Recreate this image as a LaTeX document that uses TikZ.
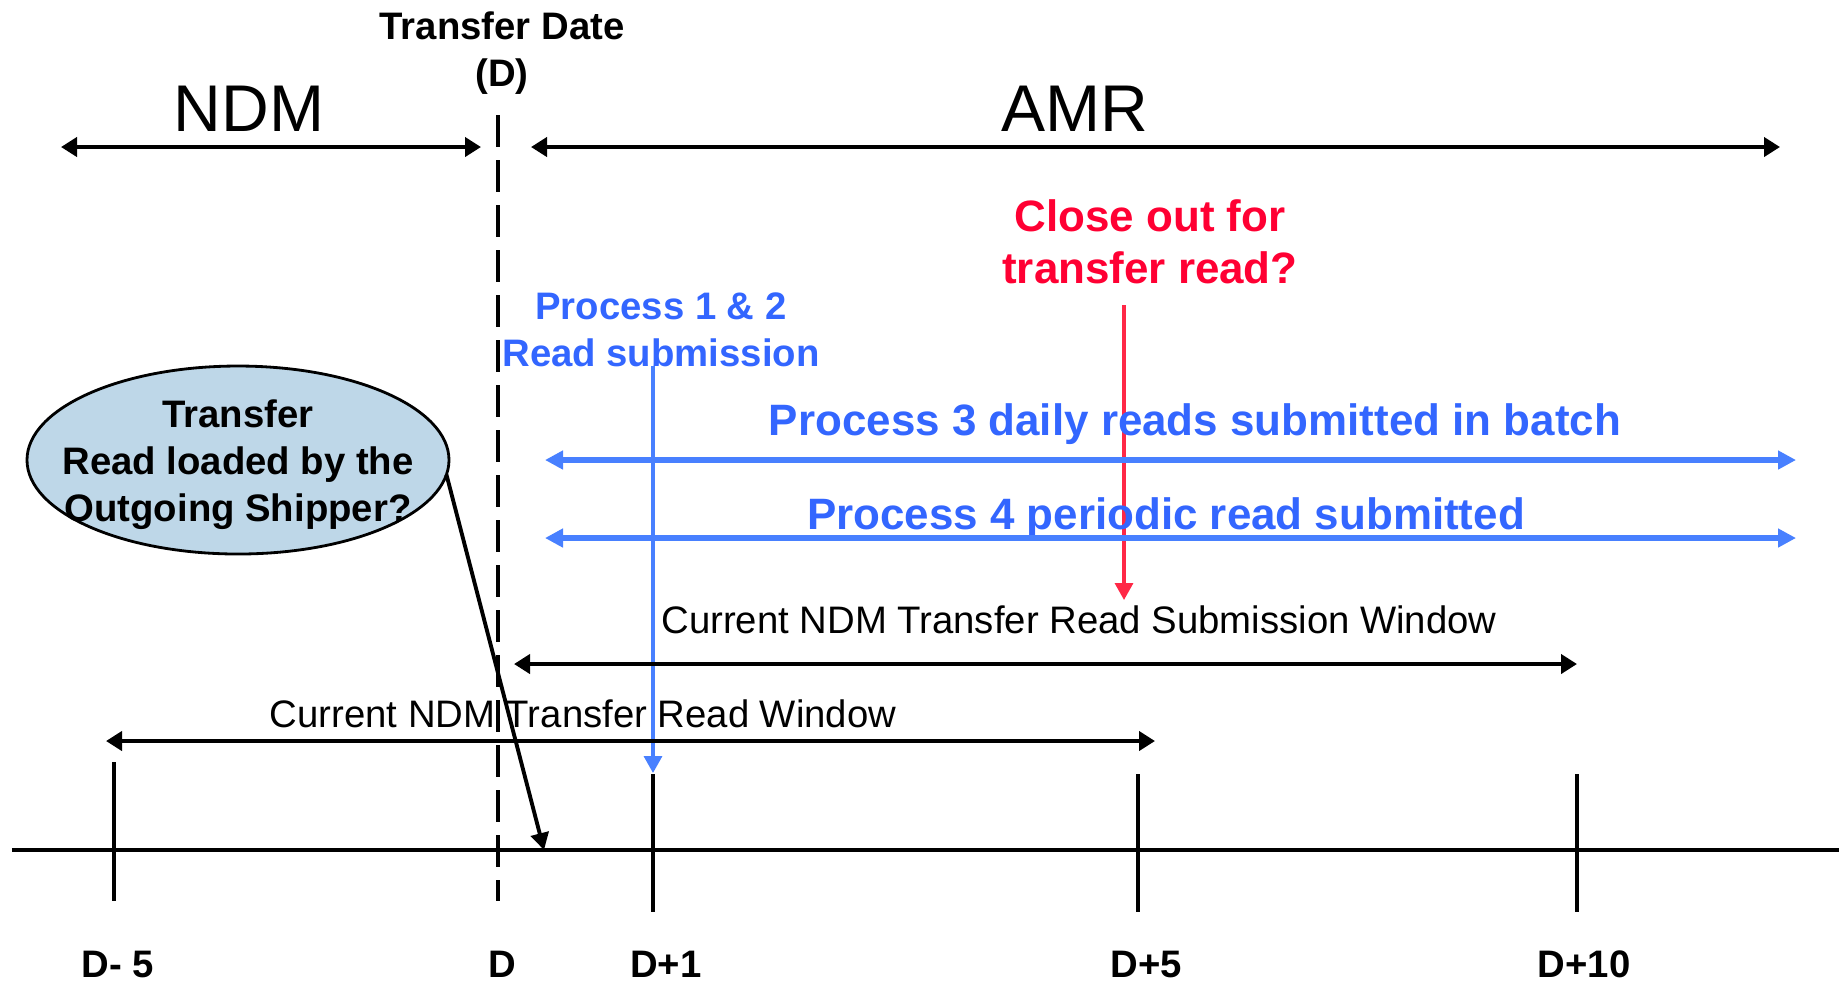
\documentclass[tikz,border=0pt]{standalone}
\usepackage{fontspec}
\setmainfont{Liberation Sans}
\usetikzlibrary{arrows.meta,shapes.geometric,positioning}
\definecolor{procblue}{RGB}{51,102,255}
\definecolor{lineblue}{RGB}{72,128,255}
\definecolor{closered}{RGB}{255,0,51}
\definecolor{linered}{RGB}{255,40,70}
\definecolor{bubblefill}{RGB}{190,215,232}
\newcommand\hugetxt{\fontsize{18.8}{22}\selectfont}
\newcommand\bigbold{\fontsize{12.5}{14.8}\selectfont\bfseries}
\newcommand\normbold{\fontsize{10.9}{13.4}\selectfont\bfseries}
\newcommand\plaintxt{\fontsize{10.9}{13.4}\selectfont}

\begin{document}
\begin{tikzpicture}[
    span/.style={line width=1.2pt,{Triangle[length=0.16cm,width=0.19cm]}-{Triangle[length=0.16cm,width=0.19cm]}},
    bluespan/.style={lineblue,line width=1.5pt,{Triangle[length=0.18cm,width=0.18cm]}-{Triangle[length=0.18cm,width=0.18cm]}},
    drop/.style={line width=0.95pt,-{Triangle[length=0.17cm,width=0.18cm]}},
    tick/.style={line width=0.9pt},
    dline/.style={line width=1.1pt,dash pattern=on 0.32cm off 0.13cm},
    daylabel/.style={anchor=base,font=\normbold,inner sep=0pt},
    bubble/.style={ellipse,draw,line width=0.8pt,fill=bubblefill,inner sep=0pt,outer sep=0pt,
        minimum width=4.22cm,minimum height=1.88cm},
    txt/.style={inner sep=0pt,align=center}
]
    \useasboundingbox (0,0) rectangle (18.39,-9.80);

    % Periods
    \node[txt,anchor=base,font=\hugetxt] (ndm) at (2.49,-1.31) {NDM};
    \node[txt,anchor=base,font=\hugetxt] (amr) at (10.75,-1.31) {AMR};
    \node[txt,font=\normbold] (tdate) at (5.02,-0.53) {Transfer Date\\(D)};
    \coordinate (ndmL) at (0.61,-1.47);
    \coordinate (ndmR) at (4.81,-1.47);
    \coordinate (amrL) at (5.31,-1.47);
    \coordinate (amrR) at (17.80,-1.47);
    \draw[span] (ndmL) -- (ndmR);
    \draw[span] (amrL) -- (amrR);

    % Transfer date line
    \coordinate (dTop) at (4.98,-1.15);
    \coordinate (dBot) at (4.98,-9.01);
    \draw[dline] (dTop) -- (dBot);

    % Time axis
    \coordinate (axL) at (0.12,-8.50);
    \coordinate (axR) at (18.39,-8.50);
    \draw[line width=1.1pt] (axL) -- (axR);
    \foreach \n/\x/\t/\b/\lx/\lab in {m5/1.14/-7.62/-9.01/1.18/{D- 5},
        p1/6.53/-7.74/-9.12/6.66/{D+1}, p5/11.38/-7.74/-9.12/11.46/{D+5},
        p10/15.77/-7.74/-9.12/15.84/{D+10}} {
        \draw[tick] (\x,\t) -- (\x,\b);
        \node[daylabel] (lab\n) at (\lx,-9.77) {\lab};
    }
    \node[daylabel] (labD) at (5.02,-9.77) {D};

    % Shipper bubble
    \node[bubble] (shipper) at (2.38,-4.60) {};
    \node[txt,font=\normbold] (shippertxt) at (2.38,-4.65) {Transfer\\Read loaded by the\\Outgoing Shipper?};
    \coordinate (loadTip) at (5.44,-8.50);
    \draw[drop,line width=1.1pt] (shipper.-4) -- (loadTip);

    % Process 1 & 2
    \node[txt,font=\normbold,text=procblue] (proc12) at (6.61,-3.30) {Process 1 \& 2\\Read submission};
    \coordinate (p12Top) at (6.53,-3.66);
    \coordinate (p12Tip) at (6.53,-7.73);
    \draw[drop,lineblue] (p12Top) -- (p12Tip);

    % Close out
    \node[txt,font=\bigbold,text=closered] (close) at (11.50,-2.42) {Close out for\\transfer read?};
    \coordinate (closeTop) at (11.24,-3.05);
    \coordinate (closeTip) at (11.24,-6.00);
    \draw[drop,linered] (closeTop) -- (closeTip);

    % Process 3 and 4
    \node[txt,anchor=base,font=\bigbold,text=procblue] (proc3) at (11.95,-4.35) {Process 3 daily reads submitted in batch};
    \coordinate (p3L) at (5.45,-4.60);
    \coordinate (p3R) at (17.96,-4.60);
    \draw[bluespan] (p3L) -- (p3R);
    \node[txt,anchor=base,font=\bigbold,text=procblue] (proc4) at (11.66,-5.29) {Process 4 periodic read submitted};
    \coordinate (p4L) at (5.45,-5.38);
    \coordinate (p4R) at (17.96,-5.38);
    \draw[bluespan] (p4L) -- (p4R);

    % Current windows
    \node[txt,anchor=base,font=\plaintxt] (subwin) at (10.79,-6.33) {Current NDM Transfer Read Submission Window};
    \coordinate (swL) at (5.14,-6.64);
    \coordinate (swR) at (15.77,-6.64);
    \draw[span] (swL) -- (swR);
    \node[txt,anchor=base,font=\plaintxt] (readwin) at (5.83,-7.27) {Current NDM Transfer Read Window};
    \coordinate (rwL) at (1.06,-7.41);
    \coordinate (rwR) at (11.55,-7.41);
    \draw[span] (rwL) -- (rwR);
\end{tikzpicture}
\end{document}
